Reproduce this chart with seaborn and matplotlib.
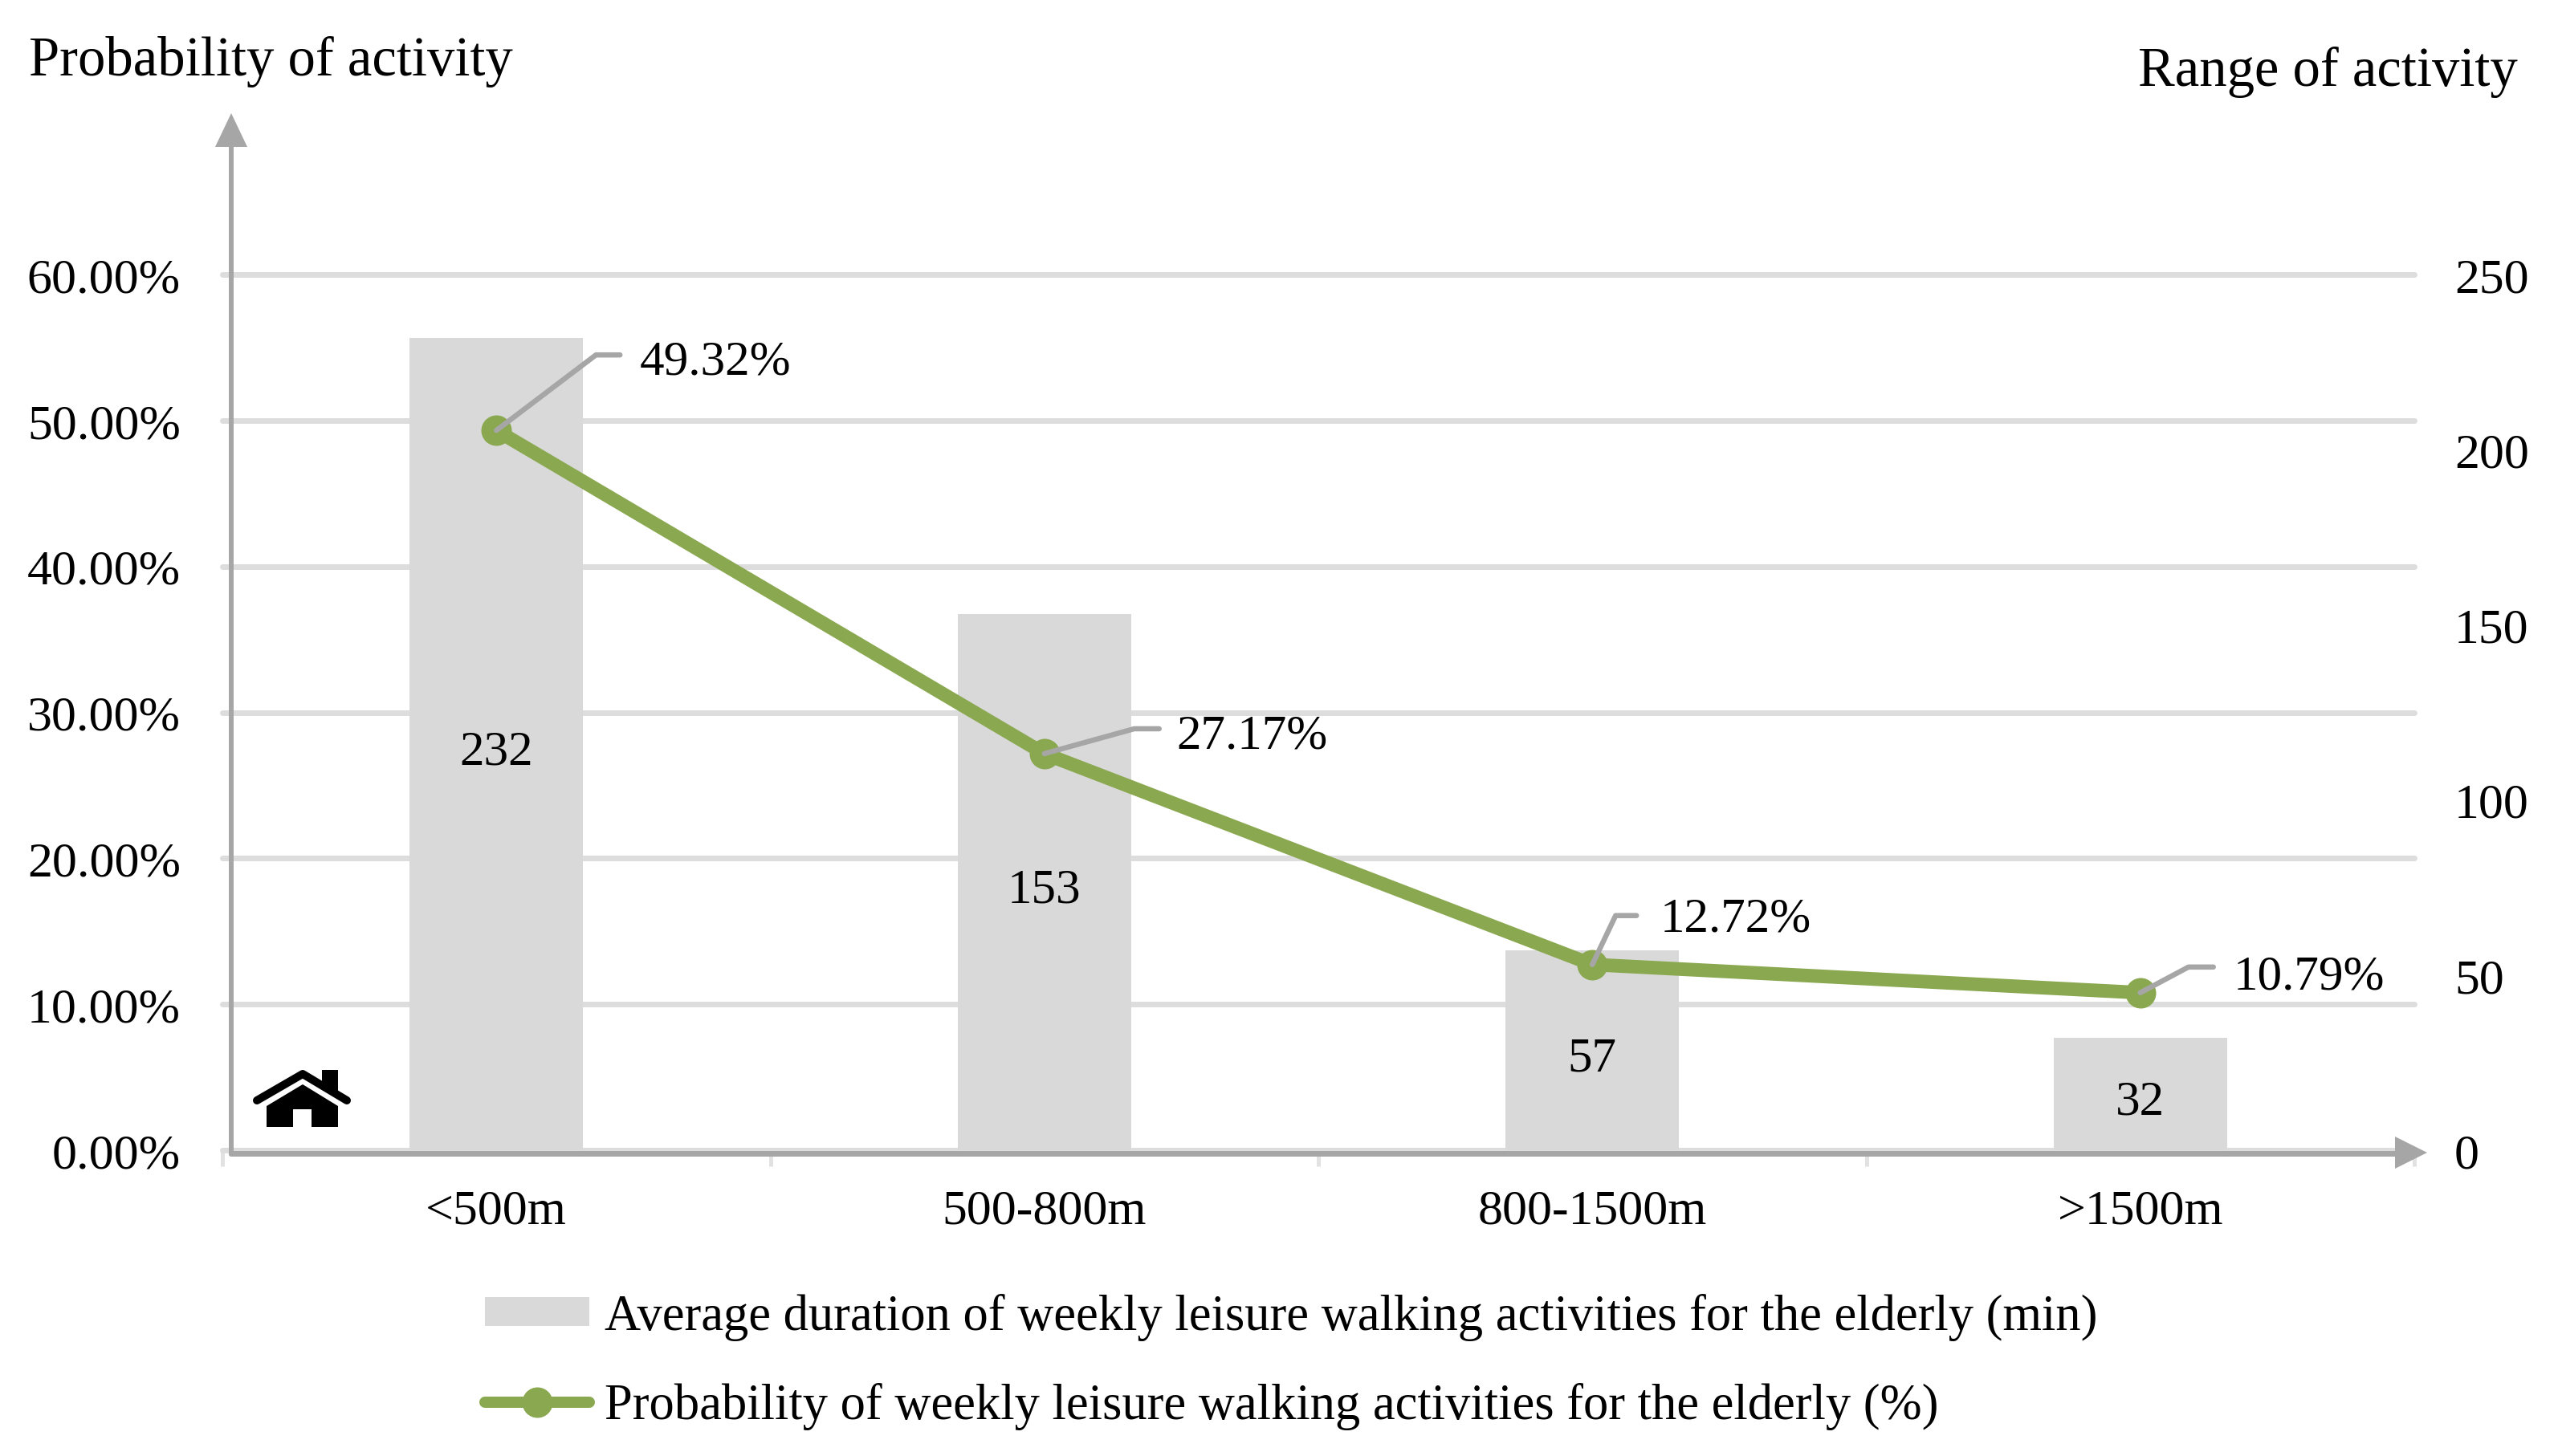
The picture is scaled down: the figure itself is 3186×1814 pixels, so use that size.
import matplotlib
matplotlib.use("Agg")
import matplotlib.pyplot as plt
import seaborn as sns
from matplotlib.lines import Line2D
from matplotlib.patches import Patch, Polygon
from matplotlib.ticker import FuncFormatter
from matplotlib.transforms import Affine2D

categories = ["<500m", "500-800m", "800-1500m", ">1500m"]
durations = [232, 153, 57, 32]
probabilities = [49.32, 27.17, 12.72, 10.79]
prob_ticks = [0, 10, 20, 30, 40, 50, 60]
dur_ticks = [0, 50, 100, 150, 200, 250]
bar_label_name = "Average duration of weekly leisure walking activities for the elderly (min)"
line_label_name = "Probability of weekly leisure walking activities for the elderly (%)"

W, H, DPI = 3186, 1815, 200
GREEN, BAR, GRID, AXIS = "#8AA84F", "#D9D9D9", "#DDDDDD", "#A6A6A6"
FS = 22.3
PT = 72 / DPI

sns.set_theme(style="white")
plt.rcParams["font.family"] = ["Liberation Serif", "DejaVu Serif"]

fig = plt.figure(figsize=(W / DPI, H / DPI), dpi=DPI, facecolor="white")
px = Affine2D().scale(1 / W, -1 / H).translate(0, 1) + fig.transFigure

L, R, T, B = 277, 3007, 343, 1434
ax = fig.add_axes([L / W, 1 - B / H, (R - L) / W, (B - T) / H])
ax2 = ax.twinx()
ax3 = ax.twinx()
ax.set_zorder(1)
ax2.set_zorder(2)
ax3.set_zorder(3)
for a in (ax2, ax3):
    a.patch.set_visible(False)

sns.barplot(x=categories, y=durations, ax=ax2, color=BAR, saturation=1, width=0.316, linewidth=0, zorder=2)
sns.lineplot(x=categories, y=probabilities, ax=ax3, color=GREEN, linewidth=17 * PT, sort=False,
             marker="o", markersize=38 * PT, markeredgewidth=0, solid_capstyle="round", zorder=3)

ax.set_xlim(-0.5, 3.5)
ax.set_ylim(0, 60)
ax2.set_ylim(0, 250)
ax3.set_ylim(0, 60)

ax.set_yticks(prob_ticks)
ax.yaxis.set_major_formatter(FuncFormatter(lambda v, _: f"{v:.2f}%"))
ax.grid(axis="y", color=GRID, linewidth=7 * PT)
ax.grid(axis="x", visible=False)
for g in ax.get_ygridlines():
    g.set_clip_on(False)
ax.tick_params(axis="y", length=0, pad=52 * PT, labelsize=FS, labelcolor="black")
ax.set_xticks(range(len(categories)), categories)
ax.set_xticks([-0.5, 0.5, 1.5, 2.5, 3.5], minor=True)
ax.tick_params(axis="x", which="major", length=0, pad=48 * PT, labelsize=FS, labelcolor="black")
ax.tick_params(axis="x", which="minor", length=20 * PT, width=5 * PT, color="#E2E2E2", bottom=True)

ax2.set_yticks(dur_ticks)
ax2.tick_params(axis="y", length=0, pad=50 * PT, labelsize=FS, labelcolor="black")
ax2.set_ylabel("")
ax3.set_yticks([])
ax3.set_ylabel("")
for a in (ax, ax2, ax3):
    for s in a.spines.values():
        s.set_visible(False)

for c in ax2.containers:
    for lab in ax2.bar_label(c, label_type="center", fontsize=22, color="black"):
        lab.xyann = (0, -10 * PT)

# leader lines: elbow dx, end dx, rise, label dx, label rise (pixels)
leaders = [(124, 154, 94, 178, 85), (112, 143, 31, 165, 22), (29, 55, 61, 84, 57), (60, 91, 32, 116, 20)]
for i, (p, (ex, ee, ey, lx, ly)) in enumerate(zip(probabilities, leaders)):
    origin = ax3.transData.transform((i, p))
    ax3.add_line(Line2D([0, ex, ee], [0, ey, ey], color=AXIS, lw=6.5 * PT, clip_on=False, zorder=6,
                        transform=Affine2D().translate(*origin)))
    ax3.annotate(f"{p:.2f}%", xy=(i, p), xytext=(lx, ly), textcoords="offset pixels",
                 fontsize=22, color="black", ha="left", va="center")

# arrowed axes
def pline(xs, ys, **kw):
    fig.add_artist(Line2D(xs, ys, transform=px, **kw))

pline([288, 288], [1439, 170], color=AXIS, lw=6 * PT, zorder=8)
pline([288, 2990], [1438, 1438], color=AXIS, lw=7 * PT, zorder=8)
fig.add_artist(Polygon([(288, 142), (268, 184), (308, 184)], closed=True, transform=px, fc=AXIS, ec="none", zorder=8))
fig.add_artist(Polygon([(3023, 1437), (2983, 1417), (2983, 1457)], closed=True, transform=px, fc=AXIS, ec="none", zorder=8))

# house icon
pline([320, 377, 432], [1372, 1339, 1372], color="black", lw=10 * PT, zorder=8, solid_capstyle="round")
fig.add_artist(Polygon([(332, 1379), (377, 1352), (421, 1379), (421, 1405), (388, 1405), (388, 1383),
                        (365, 1383), (365, 1405), (332, 1405)], closed=True, transform=px, fc="black", ec="none", zorder=8))
fig.add_artist(Polygon([(401, 1334), (421, 1334), (421, 1366), (401, 1352)], closed=True, transform=px, fc="black", ec="none", zorder=8))

# corner titles
fig.text(36 / W, 1 - 77 / H, "Probability of activity", fontsize=24.7, color="black", ha="left", va="center")
fig.text(3136 / W, 1 - 90 / H, "Range of activity", fontsize=24.7, color="black", ha="right", va="center")

# legend
handles = [Patch(fc=BAR, ec="none"),
           Line2D([0], [0], color=GREEN, lw=14 * PT, marker="o", ms=38 * PT, mew=0, solid_capstyle="round")]
fig.legend(handles, [bar_label_name, line_label_name], loc="upper left",
           bbox_to_anchor=(604 / W, 1 - 1612 / H), frameon=False, borderpad=0, borderaxespad=0,
           fontsize=22.5, handlelength=2.08, handleheight=0.5, handletextpad=0.3, labelspacing=0.83,
           labelcolor="black")

fig.savefig("out.png", dpi=DPI, facecolor="white")
